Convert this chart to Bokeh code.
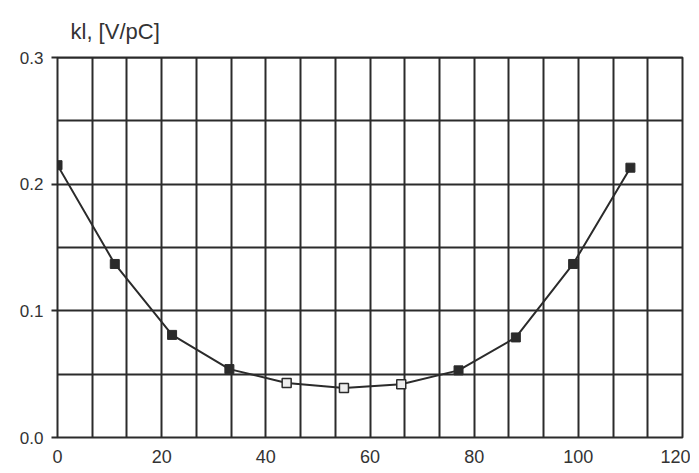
from bokeh.plotting import figure
from bokeh.models import Range1d, FixedTicker, PrintfTickFormatter
from bokeh.embed import file_html
from bokeh.resources import INLINE

x_vals = [0, 11, 22, 33, 44, 55, 66, 77, 88, 99, 110]
y_vals = [0.215, 0.137, 0.081, 0.054, 0.043, 0.039, 0.042, 0.053, 0.079, 0.137, 0.213]
filled = [True, True, True, True, False, False, False, True, True, True, True]
x_ticks = [0, 20, 40, 60, 80, 100, 120]
y_ticks = [0.0, 0.1, 0.2, 0.3]
y_label = "kl, [V/pC]"

x_grid = [i * 20 / 3 for i in range(19)]
y_grid = [i * 0.05 for i in range(7)]

ink = "#2b2b2b"
p = figure(width=690, height=465, output_backend="svg", toolbar_location=None,
           x_range=Range1d(0, 120), y_range=Range1d(0, 0.3),
           min_border_left=57, min_border_top=57, min_border_right=8, min_border_bottom=28)
p.frame_width = 625
p.frame_height = 380
p.background_fill_color = "white"
p.border_fill_color = "white"
p.outline_line_color = ink
p.outline_line_width = 2

p.title.text = y_label
p.title.align = "left"
p.title.offset = 13
p.title.text_font = "Liberation Sans"
p.title.text_font_size = "22px"
p.title.text_font_style = "normal"
p.title.text_color = "#333333"
p.title.standoff = 27

p.xgrid.ticker = FixedTicker(ticks=x_grid)
p.ygrid.ticker = FixedTicker(ticks=y_grid)
for g in (p.xgrid, p.ygrid):
    g.grid_line_color = ink
    g.grid_line_width = 2
    g.grid_line_alpha = 1.0

p.xaxis.ticker = FixedTicker(ticks=x_ticks)
p.yaxis.ticker = FixedTicker(ticks=y_ticks)
p.yaxis.formatter = PrintfTickFormatter(format="%.1f")
for ax in (p.xaxis, p.yaxis):
    ax.axis_line_color = None
    ax.minor_tick_line_color = None
    ax.major_label_text_font = "Liberation Sans"
    ax.major_label_text_color = "#333333"
p.xaxis.major_label_text_font_size = "18px"
p.yaxis.major_label_text_font_size = "17px"
p.xaxis.major_tick_line_color = None
p.xaxis.major_label_standoff = 6
p.yaxis.major_tick_line_color = ink
p.yaxis.major_tick_line_width = 2
p.yaxis.major_tick_in = 0
p.yaxis.major_tick_out = 6
p.yaxis.major_label_standoff = 8

p.line(x_vals, y_vals, line_color=ink, line_width=2)
fx = [x for x, f in zip(x_vals, filled) if f]
fy = [y for y, f in zip(y_vals, filled) if f]
ox = [x for x, f in zip(x_vals, filled) if not f]
oy = [y for y, f in zip(y_vals, filled) if not f]
p.scatter(fx, fy, marker="square", size=9, fill_color=ink, line_color=ink)
p.scatter(ox, oy, marker="square", size=9, fill_color="#eeeeee", line_color=ink, line_width=1.5)

open("out.html", "w").write(file_html(p, INLINE))
